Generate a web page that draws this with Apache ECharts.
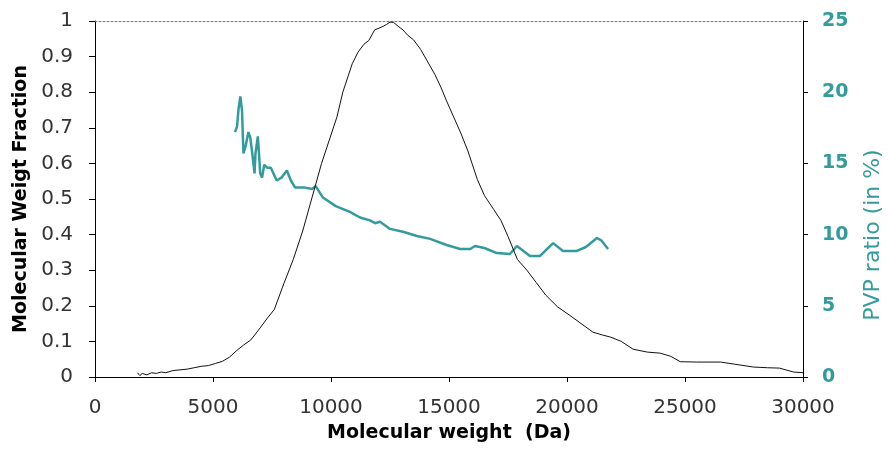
<!DOCTYPE html>
<html><head><meta charset="utf-8">
<script src="https://cdn.jsdelivr.net/npm/echarts@6/dist/echarts.min.js"></script>
<style>html,body{margin:0;padding:0;background:#fff}#c{width:888px;height:460px}</style>
</head><body><div id="c"></div>
<script>
const mwX = [1800,1900,2000,2200,2400,2600,2800,3000,3300,3600,3900,4200,4500,4800,5100,5400,5700,6000,6300,6600,7000,7300,7600,8000,8400,8800,9200,9600,9900,10250,10500,10700,10900,11150,11400,11600,11850,12150,12350,12500,12650,12850,13050,13250,13500,13800,14100,14400,14650,14900,15200,15500,15800,16200,16500,16900,17200,17500,17900,18300,18700,19100,19600,20100,20600,21100,21500,21850,22300,22800,23400,23950,24400,24800,25500,26500,27100,27900,28500,29000,29600,30000];
const mwY = [0.012,0.004,0.010,0.006,0.012,0.010,0.014,0.012,0.018,0.020,0.022,0.026,0.030,0.032,0.038,0.044,0.056,0.074,0.090,0.104,0.138,0.165,0.190,0.262,0.330,0.410,0.505,0.600,0.660,0.730,0.800,0.840,0.880,0.913,0.935,0.945,0.975,0.983,0.990,0.997,0.996,0.985,0.975,0.960,0.947,0.920,0.885,0.850,0.815,0.775,0.730,0.685,0.635,0.555,0.510,0.470,0.440,0.395,0.330,0.300,0.265,0.230,0.197,0.174,0.150,0.126,0.118,0.112,0.100,0.078,0.070,0.067,0.058,0.043,0.042,0.042,0.036,0.028,0.026,0.025,0.014,0.012];
const pvpX = [5932,6020,6080,6160,6230,6290,6380,6500,6580,6650,6760,6800,6900,6960,7000,7080,7170,7300,7450,7700,7900,8130,8300,8480,8900,9200,9350,9660,10200,10800,11230,11650,11870,12080,12500,13050,13640,14200,14900,15470,15900,16100,16500,17030,17580,17880,18430,18860,19410,19830,20420,20800,21270,21450,21740];
const pvpY = [17.2,17.6,18.8,19.7,18.7,15.7,16.2,17.2,16.8,15.9,14.3,15.7,16.9,15.4,14.3,14.0,14.9,14.7,14.7,13.8,14.0,14.5,13.8,13.3,13.3,13.2,13.4,12.6,12.0,11.6,11.2,11.0,10.8,10.9,10.4,10.2,9.9,9.7,9.27,8.99,8.99,9.2,9.06,8.7,8.64,9.2,8.5,8.5,9.4,8.85,8.85,9.13,9.76,9.6,8.99];
const xTicks = [0,5000,10000,15000,20000,25000,30000];
const leftTicks = [0,0.1,0.2,0.3,0.4,0.5,0.6,0.7,0.8,0.9,1];
const rightTicks = [0,5,10,15,20,25];

const teal = '#339b9b';
const font = 'DejaVu Sans, Arial, sans-serif';
const chart = echarts.init(document.getElementById('c'));
chart.setOption({
  animation:false,
  grid:{left:95,right:85,top:21,bottom:83,containLabel:false,outerBoundsMode:'none'},
  xAxis:[{
    type:'value',min:xTicks[0],max:xTicks[xTicks.length-1],interval:xTicks[1]-xTicks[0],position:'bottom',
    name:'Molecular weight  (Da)',nameLocation:'middle',nameGap:47,
    nameTextStyle:{fontFamily:font,fontSize:19,fontWeight:'bold',color:'#000'},
    axisLine:{show:true,onZero:false,lineStyle:{color:'#000',width:1}},
    axisTick:{show:true,inside:false,length:5,lineStyle:{color:'#000'}},
    axisLabel:{margin:21,fontFamily:font,fontSize:20,color:'#333',formatter:v=>String(v)},
    splitLine:{show:false}
  },{
    type:'value',min:xTicks[0],max:xTicks[xTicks.length-1],position:'top',
    axisLine:{show:true,onZero:false,lineStyle:{color:'#777',width:1,type:[2,2]}},
    axisTick:{show:false},axisLabel:{show:false},splitLine:{show:false}
  }],
  yAxis:[{
    type:'value',min:leftTicks[0],max:leftTicks[leftTicks.length-1],interval:0.1,position:'left',
    name:'Molecular Weigt Fraction',nameLocation:'middle',nameGap:61,nameRotate:90,
    nameTextStyle:{fontFamily:font,fontSize:19,fontWeight:'bold',color:'#000'},
    axisLine:{show:true,onZero:false,lineStyle:{color:'#000',width:1}},
    axisTick:{show:true,inside:false,length:6,lineStyle:{color:'#000'}},
    axisLabel:{margin:22,fontFamily:font,fontSize:20,color:'#333',formatter:v=>String(Math.round(v*10)/10)},
    splitLine:{show:false}
  },{
    type:'value',min:rightTicks[0],max:rightTicks[rightTicks.length-1],interval:5,position:'right',
    name:'PVP ratio (in %)',nameLocation:'middle',nameGap:59,nameRotate:90,
    nameTextStyle:{fontFamily:font,fontSize:22,color:teal,padding:[0,72,0,0]},
    axisLine:{show:true,onZero:false,lineStyle:{color:'#000',width:1}},
    axisTick:{show:true,inside:false,length:5,lineStyle:{color:'#000'}},
    axisLabel:{margin:19,fontFamily:font,fontSize:19,fontWeight:'bold',color:teal},
    splitLine:{show:false}
  },{
    type:'value',min:rightTicks[0],max:rightTicks[rightTicks.length-1],interval:5,position:'right',
    axisLine:{show:false},
    axisTick:{show:true,inside:true,length:5,lineStyle:{color:'#000'}},
    axisLabel:{show:false},splitLine:{show:false}
  }],
  series:[{
    type:'line',xAxisIndex:0,yAxisIndex:0,showSymbol:false,
    data:mwX.map((x,i)=>[x,mwY[i]]),
    lineStyle:{color:'#111',width:1},z:3
  },{
    type:'line',xAxisIndex:0,yAxisIndex:1,showSymbol:false,
    data:pvpX.map((x,i)=>[x,pvpY[i]]),
    lineStyle:{color:teal,width:2.5},z:2
  }]
});
</script></body></html>
